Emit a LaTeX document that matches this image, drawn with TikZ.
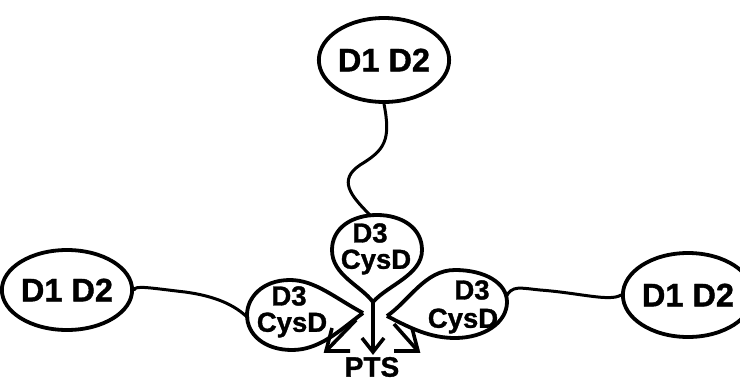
\documentclass[tikz,border=0pt]{standalone}
\usepackage{fontspec}
\setmainfont{Liberation Sans}[BoldFeatures={FakeBold=1.2}]
\usetikzlibrary{shapes.geometric}
\tikzset{
  dom/.style={draw=black, line width=3.8pt, ellipse, inner sep=0pt,
    font=\bfseries\fontsize{32.5}{32.5}\selectfont},
  lbl/.style={inner sep=0pt, font=\bfseries\fontsize{27.5}{27.5}\selectfont},
  drop/.style={draw=black, line width=3.8pt, line join=round},
  link/.style={draw=black, line width=3pt, line cap=round},
  arr/.style={draw=black, line width=3.6pt, line join=miter}
}
\begin{document}
\begin{tikzpicture}[x=1pt,y=-1pt]
\useasboundingbox (0,0) rectangle (740,383);
% D1 D2 domains
\node[dom, minimum width=104pt, minimum height=84pt] (top) at (384,60) {D1 D2};
\node[dom, minimum width=106pt, minimum height=80pt] (left) at (67,290) {D1 D2};
\node[dom, minimum width=100pt, minimum height=84pt] (right) at (688,295) {D1 D2};
% teardrops (D3 CysD)
\draw[drop] (373,302) .. controls (360,285) and (332,275) .. (332,250)
  .. controls (332,228) and (352,215) .. (377,215)
  .. controls (402,215) and (422,228) .. (422,250)
  .. controls (422,275) and (388,285) .. (373,302);
\draw[drop] (363,313) .. controls (335,298) and (315,280) .. (290,280)
  .. controls (262,280) and (247,298) .. (247,315)
  .. controls (247,335) and (265,350) .. (292,350)
  .. controls (320,350) and (340,330) .. (363,313);
\draw[drop] (387,316) .. controls (410,300) and (425,270) .. (455,270)
  .. controls (485,270) and (507,283) .. (507,302)
  .. controls (507,322) and (485,338) .. (455,338)
  .. controls (430,338) and (410,328) .. (387,316);
\coordinate (ttop) at (370,215);
\coordinate (tleft) at (248,318);
\coordinate (tright) at (506,297);
\coordinate (ctip) at (373,302);
\coordinate (ltip) at (356,320);
\coordinate (rtip) at (394,324);
\coordinate (cend) at (373,352);
\coordinate (lend) at (326,351);
\coordinate (rend) at (418,351);
% labels
\node[lbl] (t3) at (370,233) {D3};
\node[lbl] (tc) at (376,262) {CysD};
\node[lbl] (l3) at (289,296) {D3};
\node[lbl] (lc) at (292,325) {CysD};
\node[lbl] (r3) at (472,290) {D3};
\node[lbl] (rc) at (463,321) {CysD};
\node[lbl, font=\bfseries\fontsize{28}{28}\selectfont] (pts) at (372,367) {PTS};
% linkers
\draw[link] (top.south) .. controls (391,140) and (385,150) .. (360,165)
  .. controls (338,180) and (350,195) .. (ttop);
\draw[link] (left.east) .. controls (135,285) and (150,288) .. (185,292)
  .. controls (215,296) and (235,305) .. (tleft);
\draw[link] (tright) .. controls (512,285) and (520,288) .. (540,290)
  .. controls (580,293) and (610,302) .. (right.west);
% arrows to PTS
\draw[arr] (ctip) -- (cend);
\draw[arr] (362,338) -- (cend) -- (384,338);
\draw[arr] (ltip) -- (lend);
\draw[arr] (332,328) -- (lend) -- (350,351);
\draw[arr] (rtip) -- (rend);
\draw[arr] (412,328) -- (rend) -- (394,351);
\end{tikzpicture}
\end{document}
